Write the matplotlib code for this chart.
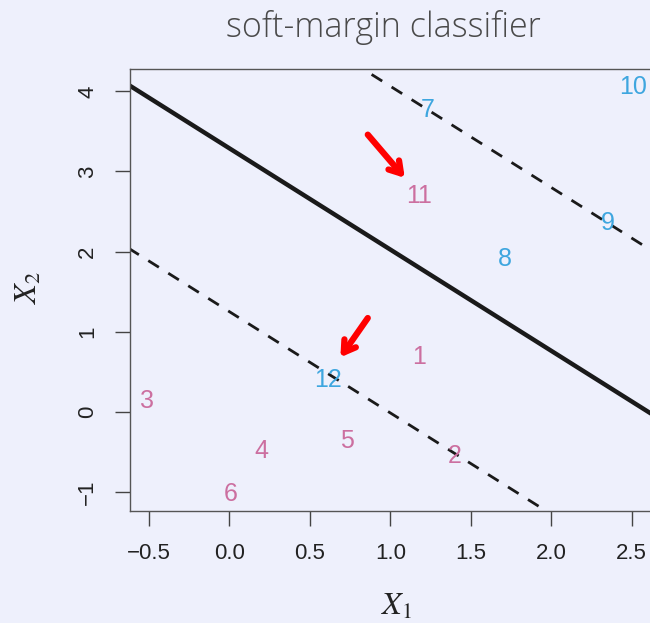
import matplotlib
matplotlib.use("Agg")
import matplotlib.pyplot as plt
import numpy as np
from matplotlib import font_manager

# observations (label, x1, x2, class)
labels = ["1", "2", "3", "4", "5", "6", "7", "8", "9", "10", "11", "12"]
x1 = [1.18, 1.40, -0.51, 0.20, 0.73, 0.01, 1.23, 1.71, 2.35, 2.51, 1.18, 0.61]
x2 = [0.68, -0.55, 0.13, -0.49, -0.37, -1.03, 3.77, 1.91, 2.36, 4.06, 2.69, 0.40]
cls = ["pink", "pink", "pink", "pink", "pink", "pink",
       "blue", "blue", "blue", "blue", "pink", "blue"]

# hyperplane x2 = b0 + b1*x1, margins at +/- m
b0 = 3.29
b1 = -1.265
margin = 2.04

# arrows pointing at the two margin violators: (tail, head)
arrows = [((0.86, 3.46), (1.09, 2.92)),
          ((0.86, 1.17), (0.69, 0.68))]

bg = "#eef0fc"
colors = {"pink": "#cc6fa0", "blue": "#3ea6df"}

avail = {f.name for f in font_manager.fontManager.ttflist}
title_font = "Open Sans" if "Open Sans" in avail else "DejaVu Sans"
plt.rcParams["mathtext.fontset"] = "stix"

fig = plt.figure(figsize=(6.5, 6.23), dpi=100, facecolor=bg)
ax = fig.add_axes([130/650, 112/623, 534/650, 442/623])
ax.set_facecolor(bg)

ax.set_xlim(-0.617, 2.70)
ax.set_ylim(-1.24, 4.28)

xs = np.array([-1.0, 3.0])
ax.plot(xs, b0 + b1*xs, color="#1a1a1a", lw=3.2, solid_capstyle="butt")
for s in (-1, 1):
    ax.plot(xs, b0 + s*margin + b1*xs, color="#1a1a1a", lw=2.0,
            dashes=(4.5, 4))

for lab, a, b, c in zip(labels, x1, x2, cls):
    ax.text(a, b, lab, color=colors[c], fontsize=18, family="Liberation Sans",
            ha="center", va="center", clip_on=False)

for tail, head in arrows:
    ax.annotate("", xy=head, xytext=tail,
                arrowprops=dict(arrowstyle="->, head_length=0.8, head_width=0.5",
                                color="#ff0000", lw=4.5, shrinkA=0, shrinkB=0))

ax.set_xticks([-0.5, 0.0, 0.5, 1.0, 1.5, 2.0, 2.5])
ax.set_xticklabels(["\u22120.5", "0.0", "0.5", "1.0", "1.5", "2.0", "2.5"])
ax.set_yticks([-1, 0, 1, 2, 3, 4])
ax.set_yticklabels(["\u22121", "0", "1", "2", "3", "4"], rotation=90, va="center")
ax.tick_params(axis="both", direction="out", length=11, width=1.0,
               color="#444444", labelcolor="#222222", labelsize=16)
ax.tick_params(axis="x", pad=12)
ax.tick_params(axis="y", pad=12)
for lab in ax.get_xticklabels() + ax.get_yticklabels():
    lab.set_family("Liberation Sans")

for side in ("left", "bottom", "top", "right"):
    ax.spines[side].set_color("#555555")
    ax.spines[side].set_linewidth(1.0)

fig.text(397/650, 1 - 606/623, "$X_1$", fontsize=23, ha="center", va="center",
         color="#222222")
fig.text(28/650, 1 - 288/623, "$X_2$", fontsize=23, ha="center", va="center",
         rotation=90, color="#222222")

fig.text(383/650, 1 - 37/623, "soft-margin classifier", fontsize=24.5,
         family=title_font, fontweight="light", color="#4a4a4a",
         ha="center", va="baseline")

fig.savefig("out.png", dpi=100, facecolor=bg)
